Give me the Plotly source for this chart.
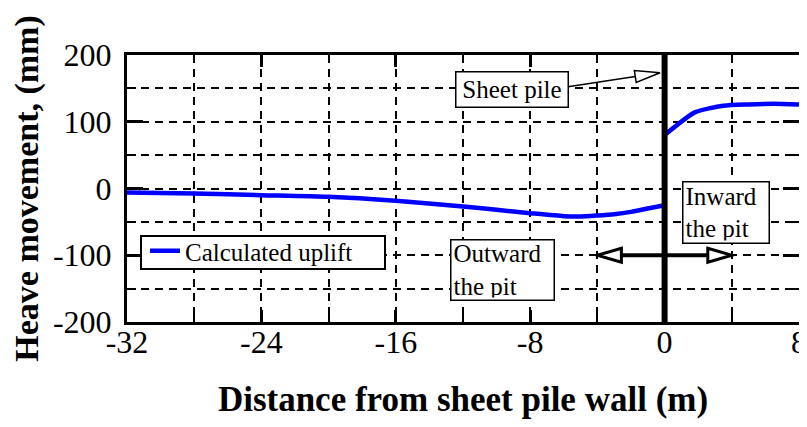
import plotly.graph_objects as go

# ---- data ----
x_out = [-32, -28, -24, -20, -16, -12, -10, -8, -6, -5, -4, -3, -2, -1, 0]
y_out = [-6, -7.5, -10, -12.5, -18.5, -27, -32, -37, -41.5, -42, -40.5, -38.5, -35, -30, -25]
x_in = [0, 1.8, 3.5, 5, 6.5, 8]
y_in = [80, 114, 124, 126, 127, 126]
x_ticks = [-32, -24, -16, -8, 0, 8]
x_ticklabels = ["-32", "-24", "-16", "-8", "0", "8"]
y_ticks = [-200, -100, 0, 100, 200]
y_ticklabels = ["-200", "-100", "0", "100", "200"]
series_name = "Calculated uplift"

FONT = "Liberation Serif"
XR = [-32, 8]
YR = [-200, 200]
OFF = 8  # page body margin
W, H = 807 - OFF, 427 - 2 * OFF
# plot area in window pixels: x 127..799, y 55..322
ML, MT = 127 - OFF, 55 - OFF
MR = W - (799 - OFF)
MB = H - (322 - OFF)
PW, PH = W - ML - MR, H - MT - MB
XPX = PW / (XR[1] - XR[0])
YPX = PH / (YR[1] - YR[0])


def to_data(px, py):
    # window pixel -> data
    return XR[0] + (px - OFF - ML) / XPX, YR[1] - (py - OFF - MT) / YPX


def to_px(x, y):
    return OFF + ML + (x - XR[0]) * XPX, OFF + MT + (YR[1] - y) * YPX


def to_paper(px, py):
    return (px - OFF - ML) / PW, (H - MB - (py - OFF)) / PH


def head(tip, base_from, length=24, half=6.5):
    tx, ty = to_px(*tip)
    fx, fy = to_px(*base_from)
    dx, dy = tx - fx, ty - fy
    n = (dx * dx + dy * dy) ** 0.5
    ux, uy = dx / n, dy / n
    bx, by = tx - length * ux, ty - length * uy
    px_, py_ = -uy, ux
    pts = [(tx, ty), (bx + half * px_, by + half * py_), (bx - half * px_, by - half * py_)]
    d = [to_data(a, b) for a, b in pts]
    path = "M {} {} L {} {} L {} {} Z".format(d[0][0], d[0][1], d[1][0], d[1][1], d[2][0], d[2][1])
    return path, to_data(bx, by)


fig = go.Figure()
fig.add_trace(go.Scatter(x=x_out, y=y_out, mode="lines", name=series_name,
                         line=dict(color="#0000FF", width=4.5, shape="spline", smoothing=0.6),
                         legendgroup="c"))
fig.add_trace(go.Scatter(x=x_in, y=y_in, mode="lines", name=series_name,
                         line=dict(color="#0000FF", width=4.5, shape="spline", smoothing=0.6),
                         legendgroup="c", showlegend=False))

shapes = []
shapes.append(dict(type="line", xref="x", yref="y", x0=0, x1=0, y0=YR[0], y1=YR[1],
                   line=dict(color="black", width=6), layer="above"))

tipL, tipR = (-4, -100), (4, -100)
pL, bL = head(tipL, tipR, length=24, half=7)
pR, bR = head(tipR, tipL, length=24, half=7)
shapes.append(dict(type="line", xref="x", yref="y", x0=bL[0], x1=bR[0], y0=-100, y1=-100,
                   line=dict(color="black", width=4), layer="above"))
for p in (pL, pR):
    shapes.append(dict(type="path", xref="x", yref="y", path=p, fillcolor="white",
                       line=dict(color="black", width=3), layer="above"))

start = to_data(568, 86.7)
tipS = to_data(660, 72.7)
pS, bS = head(tipS, start, length=25, half=6)
shapes.append(dict(type="line", xref="x", yref="y", x0=start[0], y0=start[1], x1=bS[0], y1=bS[1],
                   line=dict(color="black", width=1.5), layer="above"))
shapes.append(dict(type="path", xref="x", yref="y", path=pS, fillcolor="white",
                   line=dict(color="black", width=1.5), layer="above"))

# legend frame
lg0, lg1 = to_paper(141, 269), to_paper(385, 236)
shapes.append(dict(type="rect", xref="paper", yref="paper", x0=lg0[0], y0=lg0[1], x1=lg1[0], y1=lg1[1],
                   fillcolor="white", line=dict(color="black", width=2), layer="above"))

ann_font = dict(family=FONT, size=25, color="black")
cS, cI, cO = to_data(511.5, 89.7), to_data(726.4, 212.7), to_data(502.2, 269.7)
annotations = [
    dict(x=cS[0], y=cS[1], xref="x", yref="y",
         text="Sheet pile", showarrow=False, font=ann_font, bgcolor="white",
         bordercolor="black", borderwidth=1.5, borderpad=2, width=107, height=30),
    dict(x=cI[0], y=cI[1], xref="x", yref="y",
         text="Inward<br>the pit", showarrow=False, font=ann_font, bgcolor="white", align="left",
         bordercolor="black", borderwidth=1.5, borderpad=2, width=81, height=56),
    dict(x=cO[0], y=cO[1], xref="x", yref="y",
         text="Outward<br>the pit", showarrow=False, font=ann_font, bgcolor="white", align="left",
         bordercolor="black", borderwidth=1.5, borderpad=2, width=98, height=55),
]

axis_common = dict(
    showline=True, linewidth=3, linecolor="black", mirror="allticks",
    ticks="inside", tickwidth=3, tickcolor="black", automargin=False,
    showgrid=True, gridcolor="black", gridwidth=1.5, griddash="8px,6px",
    zeroline=False, tickfont=dict(family=FONT, size=32, color="black"),
    ticklabeloverflow="allow",
)

lgpos = to_paper(145, 228)
fig.update_layout(
    width=W, height=H, margin=dict(l=ML, r=MR, t=MT, b=MB),
    plot_bgcolor="white", paper_bgcolor="white",
    font=dict(family=FONT, color="black"),
    shapes=shapes, annotations=annotations,
    legend=dict(x=lgpos[0], y=lgpos[1],
                xanchor="left", yanchor="top", bgcolor="rgba(0,0,0,0)",
                borderwidth=0,
                font=dict(family=FONT, size=25, color="black"), itemwidth=30),
    xaxis=dict(range=XR, tickvals=x_ticks, ticktext=x_ticklabels, ticklen=12, ticklabelstandoff=-10,
               minor=dict(dtick=4, tick0=0, ticks="inside", ticklen=8, tickwidth=2, tickcolor="black",
                          showgrid=True, gridcolor="black", gridwidth=1.5, griddash="8px,6px"),
               title=dict(text="<b>Distance from sheet pile wall (m)</b>",
                          font=dict(family=FONT, size=35, color="black"), standoff=35),
               **axis_common),
    yaxis=dict(range=YR, tickvals=y_ticks, ticktext=y_ticklabels, ticklen=16, ticklabelstandoff=6,
               minor=dict(dtick=50, tick0=0, ticks="inside", ticklen=9, tickwidth=2, tickcolor="black",
                          showgrid=True, gridcolor="black", gridwidth=1.5, griddash="8px,6px"),
               title=dict(text="<b>Heave movement, (mm)</b>",
                          font=dict(family=FONT, size=34, color="black"), standoff=18),
               **axis_common),
)

fig.write_html("out.html")
